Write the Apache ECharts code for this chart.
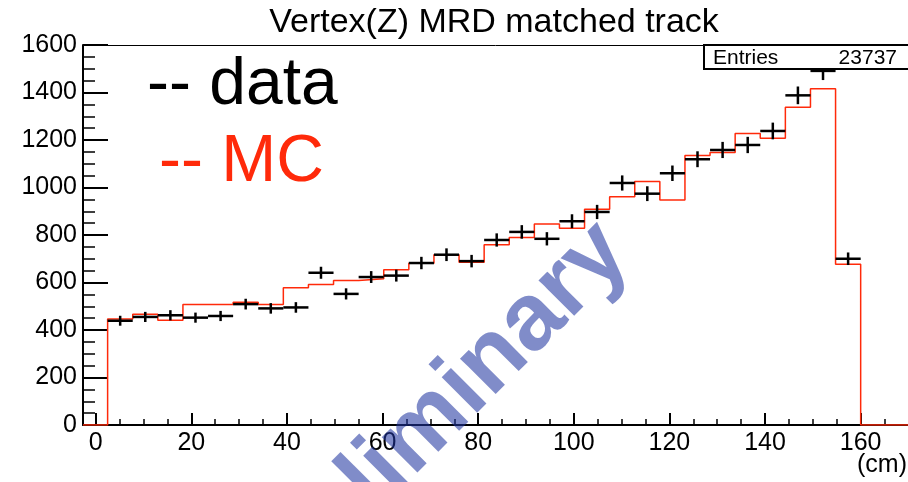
<!DOCTYPE html>
<html>
<head>
<meta charset="utf-8">
<script src="https://cdn.jsdelivr.net/npm/echarts@6/dist/echarts.min.js"></script>
<style>html,body{margin:0;padding:0;background:#fff;}#c{width:908px;height:482px;}</style>
</head>
<body>
<div id="c"></div>
<script>
// ---- data ----
var binEdges = [2.5,7.75,13,18.25,23.5,28.75,34,39.25,44.5,49.75,55,60.25,65.5,70.75,76,81.25,86.5,91.75,97,102.25,107.5,112.75,118,123.25,128.5,133.75,139,144.25,149.5,154.75,160];
var dataCounts = [439,455,462,452,459,509,491,495,641,552,623,629,682,717,690,779,813,784,858,897,1019,974,1060,1119,1158,1179,1238,1388,1491,700];
var mcCounts = [446,466,441,507,507,517,507,578,592,608,616,654,681,717,685,759,789,846,828,908,961,1025,947,1135,1147,1227,1207,1338,1416,677];
var xMajorTicks = [0,20,40,60,80,100,120,140,160];
var xMinorTicks = [0,5,10,15,20,25,30,35,40,45,50,55,60,65,70,75,80,85,90,95,100,105,110,115,120,125,130,135,140,145,150,155,160,165];
var xMin = -2.65, xMax = 169.9;
var yMin = 0, yMax = 1600, yInterval = 200;
var titleText = 'Vertex(Z) MRD matched track';
var entriesLabel = 'Entries', entriesValue = '23737';
var xUnit = '(cm)';
var watermark = 'Preliminary';

var FONT = '"Liberation Sans", Arial, Helvetica, sans-serif';
var RED = '#ff2a0a';

// build series data
var mcLine = [[xMin, 0]];
for (var i = 0; i < mcCounts.length; i++) mcLine.push([binEdges[i], mcCounts[i]]);
mcLine.push([binEdges[binEdges.length - 1], 0]);
mcLine.push([xMax, 0]);

var dataPts = [];
for (var j = 0; j < dataCounts.length; j++) dataPts.push([binEdges[j], binEdges[j + 1], dataCounts[j]]);

var chart = echarts.init(document.getElementById('c'), null, {renderer: 'canvas'});
chart.setOption({
  animation: false,
  backgroundColor: '#fff',
  grid: {left: 83, right: 0, top: 45, bottom: 57, containLabel: false},
  xAxis: [
    {type: 'value', min: xMin, max: xMax, position: 'bottom',
     axisLine: {show: true, onZero: false, lineStyle: {color: '#000', width: 2}},
     axisTick: {show: true, inside: true, length: 12, customValues: xMajorTicks, lineStyle: {color: '#000', width: 2}},
     axisLabel: {show: true, customValues: xMajorTicks, color: '#000', fontSize: 25, fontFamily: FONT, margin: 6,
                 formatter: function (v) { return String(v); }},
     splitLine: {show: false}},
    {type: 'value', min: xMin, max: xMax, position: 'bottom',
     axisLine: {show: false},
     axisTick: {show: true, inside: true, length: 6, customValues: xMinorTicks, lineStyle: {color: '#000', width: 1.5}},
     axisLabel: {show: false}, splitLine: {show: false}},
    {type: 'value', min: xMin, max: xMax, position: 'top',
     axisLine: {show: true, onZero: false, lineStyle: {color: '#000', width: 1}},
     axisTick: {show: false}, axisLabel: {show: false}, splitLine: {show: false}}
  ],
  yAxis: [{
    type: 'value', min: yMin, max: yMax, interval: yInterval,
    axisLine: {show: true, onZero: false, lineStyle: {color: '#000', width: 2}},
    axisTick: {show: true, inside: true, length: 25, lineStyle: {color: '#000', width: 2}},
    minorTick: {show: true, splitNumber: 4, length: 12, lineStyle: {color: '#000', width: 1.5}},
    axisLabel: {color: '#000', fontSize: 25, fontFamily: FONT, margin: 6,
                formatter: function (v) { return String(v); }},
    splitLine: {show: false}, minorSplitLine: {show: false}
  }],
  series: [
    {type: 'line', name: 'MC', step: 'end', data: mcLine, symbol: 'none', xAxisIndex: 0,
     lineStyle: {color: RED, width: 1.5}, z: 3, silent: true},
    {type: 'custom', name: 'data', data: dataPts, xAxisIndex: 0, z: 4, silent: true,
     encode: {x: [0, 1], y: 2},
     renderItem: function (params, api) {
       var lo = api.value(0), hi = api.value(1), n = api.value(2);
       var err = Math.sqrt(n);
       var pL = api.coord([lo, n]), pR = api.coord([hi, n]);
       var pT = api.coord([(lo + hi) / 2, n + err]), pB = api.coord([(lo + hi) / 2, n - err]);
       var st = {stroke: '#000', lineWidth: 2.5};
       return {type: 'group', children: [
         {type: 'line', shape: {x1: pL[0], y1: pL[1], x2: pR[0], y2: pR[1]}, style: st},
         {type: 'line', shape: {x1: pT[0], y1: pT[1], x2: pB[0], y2: pB[1]}, style: st}
       ]};
     }}
  ],
  graphic: [
    {type: 'text', x: 494, y: 23, z: 10, style: {text: titleText, font: '34px ' + FONT, fill: '#000', textAlign: 'center', textVerticalAlign: 'middle'}},
    {type: 'text', x: 147, y: 86, z: 10, style: {text: '-- data', font: '66px ' + FONT, fill: '#000', textAlign: 'left', textVerticalAlign: 'middle'}},
    {type: 'text', x: 159, y: 163, z: 10, style: {text: '-- MC', font: '66px ' + FONT, fill: RED, textAlign: 'left', textVerticalAlign: 'middle'}},
    {type: 'rect', z: 10, shape: {x: 704, y: 45, width: 210, height: 24}, style: {fill: '#fff', stroke: '#000', lineWidth: 2}},
    {type: 'text', x: 713, y: 58, z: 11, style: {text: entriesLabel, font: '21px ' + FONT, fill: '#000', textAlign: 'left', textVerticalAlign: 'middle'}},
    {type: 'text', x: 897, y: 58, z: 11, style: {text: entriesValue, font: '21px ' + FONT, fill: '#000', textAlign: 'right', textVerticalAlign: 'middle'}},
    {type: 'text', x: 907, y: 465, z: 10, style: {text: xUnit, font: '25px ' + FONT, fill: '#000', textAlign: 'right', textVerticalAlign: 'middle'}},
    {type: 'text', x: 648, y: 272, rotation: Math.PI / 4, z: 20, style: {text: watermark, font: 'bold 95px ' + FONT, fill: '#1f35a0', opacity: 0.57, textAlign: 'right', textVerticalAlign: 'bottom'}}
  ]
});
</script>
</body>
</html>
